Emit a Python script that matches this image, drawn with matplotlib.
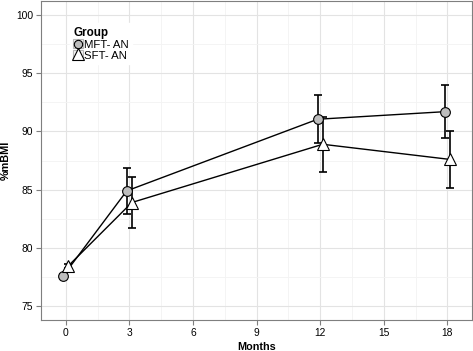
import matplotlib
matplotlib.use("Agg")
import matplotlib.pyplot as plt
import numpy as np
from matplotlib.patches import Rectangle
from matplotlib.lines import Line2D
from matplotlib.legend_handler import HandlerTuple
from matplotlib.ticker import MultipleLocator

plt.rcParams['font.family'] = ['Liberation Sans', 'DejaVu Sans']

months = [0, 3, 12, 18]
groups = ["MFT- AN", "SFT- AN"]
mft_mean = [77.6, 84.9, 91.05, 91.7]
mft_err = [0.15, 1.95, 2.05, 2.3]
sft_mean = [78.45, 83.9, 88.9, 87.6]
sft_err = [0.15, 2.15, 2.35, 2.45]


def main():
    fig = plt.figure(figsize=(4.73, 3.51), dpi=100)
    ax = fig.add_axes([0.086, 0.088, 0.911, 0.909])

    dodge = 0.12
    x = np.array(months, dtype=float)
    styles = [
        dict(marker="o", ms=7, mfc="#BDBDBD", x=x - dodge, y=mft_mean, e=mft_err),
        dict(marker="^", ms=9, mfc="white", x=x + dodge, y=sft_mean, e=sft_err),
    ]
    for s in styles:
        ax.errorbar(s["x"], s["y"], yerr=s["e"], fmt="none", ecolor="black",
                    elinewidth=1.2, capsize=3.2, capthick=1.2, zorder=3)
    for s in styles:
        ax.plot(s["x"], s["y"], color="black", lw=1.0, zorder=4)
    for s in styles:
        ax.plot(s["x"], s["y"], ls="none", marker=s["marker"], ms=s["ms"],
                mfc=s["mfc"], mec="black", mew=0.8, zorder=5)

    ax.set_xlim(-1.18, 19.14)
    ax.set_ylim(73.8, 101.2)
    ax.xaxis.set_major_locator(MultipleLocator(3))
    ax.xaxis.set_minor_locator(MultipleLocator(1.5))
    ax.yaxis.set_major_locator(MultipleLocator(5))
    ax.yaxis.set_minor_locator(MultipleLocator(2.5))
    ax.grid(True, which="major", color="#E3E3E3", lw=0.8, zorder=0)
    ax.grid(True, which="minor", color="#F3F3F3", lw=0.6, zorder=0)
    ax.set_axisbelow(True)
    ax.tick_params(which="major", length=3.5, color="#7F7F7F", width=0.8,
                   labelsize=7.4, pad=2, labelcolor="black")
    ax.tick_params(which="minor", length=0)
    for sp in ax.spines.values():
        sp.set_color("#7F7F7F")
        sp.set_linewidth(0.8)

    ax.set_xlabel("Months", fontsize=7.8, fontweight="bold", labelpad=3)
    ax.set_ylabel("%mBMI", fontsize=7.8, fontweight="bold", labelpad=4)

    handles = []
    for s in styles:
        box = Rectangle((0, 0), 1, 1, facecolor="#F5F5F5", edgecolor="#B8B8B8", lw=0.8)
        mk = Line2D([], [], ls="none", marker=s["marker"], ms=s["ms"] - 1,
                    mfc=s["mfc"], mec="black", mew=0.8)
        handles.append((box, mk))
    leg = ax.legend(handles, groups, handler_map={tuple: HandlerTuple(ndivide=1, pad=0)},
                    loc="upper left", bbox_to_anchor=(0.068, 0.93), title="Group",
                    fontsize=8.2, title_fontproperties={"weight": "bold", "size": 8.4},
                    alignment="left", frameon=True, fancybox=False, edgecolor="white",
                    framealpha=1, handlelength=0.8, handleheight=0.8,
                    handletextpad=0.15, labelspacing=0.05, borderpad=0.3,
                    borderaxespad=0)
    leg.set_zorder(6)

    fig.savefig("out.png", dpi=100)


if __name__ == "__main__":
    main()
